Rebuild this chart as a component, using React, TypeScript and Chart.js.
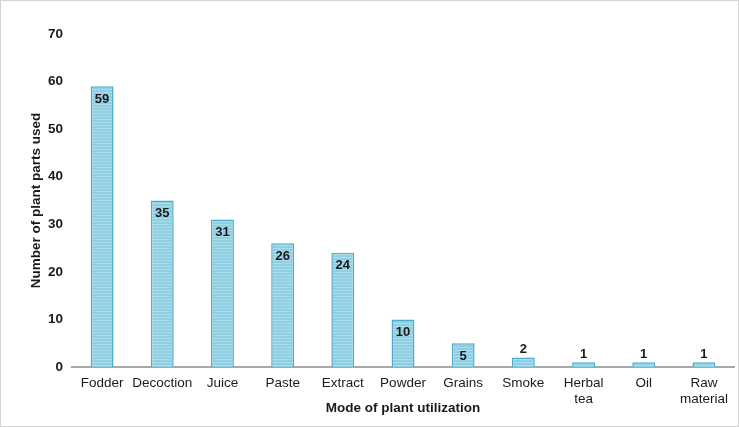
import React, { useEffect, useRef } from "react";
import { Chart, registerables } from "chart.js";

Chart.register(...registerables);

const categories: (string | string[])[] = [
  "Fodder", "Decoction", "Juice", "Paste", "Extract", "Powder", "Grains", "Smoke", ["Herbal", "tea"], "Oil", ["Raw", "material"],
];
const counts = [59, 35, 31, 26, 24, 10, 5, 2, 1, 1, 1];
const yTicks = [0, 10, 20, 30, 40, 50, 60, 70];

const FONT = "'Liberation Sans', Arial, sans-serif";

function makePattern(): CanvasPattern | string {
  const c = document.createElement("canvas");
  c.width = 4;
  c.height = 3;
  const ctx = c.getContext("2d");
  if (!ctx) return "#92d2e3";
  ctx.fillStyle = "#8fcfe1";
  ctx.fillRect(0, 0, 4, 3);
  ctx.fillStyle = "#aadcea";
  ctx.fillRect(0, 1, 4, 1);
  const p = ctx.createPattern(c, "repeat");
  return p || "#92d2e3";
}

const labelPlugin = {
  id: "barLabels",
  afterDatasetsDraw(chart: any) {
    const ctx = chart.ctx;
    const meta = chart.getDatasetMeta(0);
    ctx.save();
    ctx.font = `bold 13px ${FONT}`;
    ctx.fillStyle = "#1a1a1a";
    ctx.textAlign = "center";
    ctx.textBaseline = "middle";
    meta.data.forEach((bar: any, i: number) => {
      const v = counts[i];
      const y = v >= 5 ? bar.y + 13 : bar.y - 8;
      ctx.fillText(String(v), bar.x, y);
    });
    ctx.restore();
  },
};

export default function App() {
  const ref = useRef<HTMLCanvasElement>(null);
  useEffect(() => {
    document.body.style.margin = "0";
    if (!ref.current) return;
    const chart = new Chart(ref.current, {
      type: "bar",
      data: {
        labels: categories,
        datasets: [
          {
            data: counts,
            backgroundColor: makePattern() as any,
            borderColor: "#4eacc8",
            borderWidth: 1.5,
            barPercentage: 0.38,
            categoryPercentage: 1,
          },
        ],
      },
      options: {
        animation: false,
        responsive: false,
        maintainAspectRatio: false,
        layout: { padding: { top: 33, right: 4, left: 0, bottom: 0 } },
        plugins: { legend: { display: false }, tooltip: { enabled: false } },
        scales: {
          x: {
            grid: { display: false, drawTicks: false },
            border: { display: true, color: "#a8a8a8", width: 2 },
            ticks: {
              color: "#1a1a1a",
              font: { family: FONT, size: 13.5, lineHeight: 1.15 },
              padding: 9,
              maxRotation: 0,
              autoSkip: false,
            },
            title: {
              display: true,
              text: "Mode of plant utilization",
              color: "#1a1a1a",
              font: { family: FONT, size: 13.5, weight: "bold" },
              padding: { top: 0, bottom: 10 },
            },
            afterFit: (s: any) => {
              s.height = 59;
            },
          },
          y: {
            min: 0,
            max: 70,
            afterBuildTicks: (s: any) => {
              s.ticks = yTicks.map((v) => ({ value: v }));
            },
            grid: { display: false, drawTicks: false },
            border: { display: false },
            ticks: {
              color: "#1a1a1a",
              font: { family: FONT, size: 13.5, weight: "bold" },
              padding: 9,
            },
            title: {
              display: true,
              text: "Number of plant parts used",
              color: "#1a1a1a",
              font: { family: FONT, size: 13.5, weight: "bold" },
              padding: { top: 27, bottom: 0 },
            },
            afterFit: (s: any) => {
              s.width = 71;
            },
          },
        },
      },
      plugins: [labelPlugin],
    });
    return () => chart.destroy();
  }, []);
  return (
    <div
      style={{
        position: "absolute",
        left: 0,
        top: 0,
        width: 739,
        height: 427,
        boxSizing: "border-box",
        border: "1px solid #d4d4d4",
        background: "#fff",
      }}
    >
      <canvas ref={ref} width={737} height={425} style={{ display: "block" }} />
    </div>
  );
}
